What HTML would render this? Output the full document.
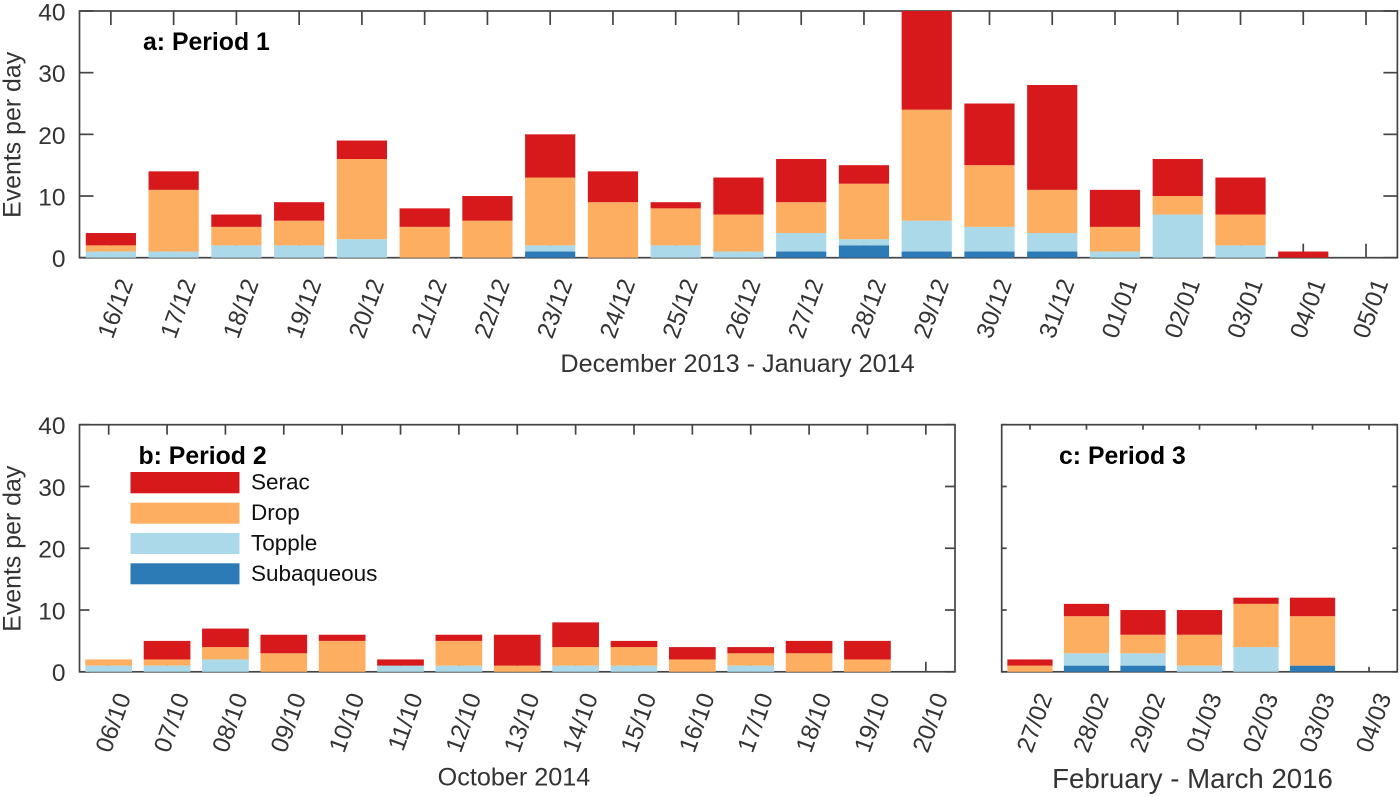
<!DOCTYPE html>
<html lang="en">
<head>
<meta charset="utf-8">
<title>Events per day by period</title>
<style>
html,body{margin:0;padding:0;background:#fff;}
svg{display:block;font-family:"Liberation Sans",Arial,sans-serif;}
</style>
</head>
<body>
<svg id="chart" xmlns="http://www.w3.org/2000/svg" width="1400" height="797" viewBox="0 0 1400 797">
  <g id="panels"></g>
  <g id="legend">
    <rect x="130.5" y="472" width="109" height="21.3" fill="#d7191c"/>
    <text x="251" y="489.5" font-size="22.5" fill="#111">Serac</text>
    <rect x="130.5" y="502.7" width="109" height="21" fill="#fdae61"/>
    <text x="251" y="520" font-size="22.5" fill="#111">Drop</text>
    <rect x="130.5" y="533" width="109" height="21" fill="#abd9e9"/>
    <text x="251" y="550.5" font-size="22.5" fill="#111">Topple</text>
    <rect x="130.5" y="563.3" width="109" height="21" fill="#2c7bb6"/>
    <text x="251" y="581" font-size="22.5" fill="#111">Subaqueous</text>
  </g>
</svg>
<script>
// Panel a: December 2013 - January 2014
const datesA = ["16/12","17/12","18/12","19/12","20/12","21/12","22/12","23/12","24/12","25/12","26/12","27/12","28/12","29/12","30/12","31/12","01/01","02/01","03/01","04/01","05/01"];
const subaqueousA = [0,0,0,0,0,0,0,1,0,0,0,1,2,1,1,1,0,0,0,0,0];
const toppleA     = [1,1,2,2,3,0,0,1,0,2,1,3,1,5,4,3,1,7,2,0,0];
const dropA       = [1,10,3,4,13,5,6,11,9,6,6,5,9,18,10,7,4,3,5,0,0];
const seracA      = [2,3,2,3,3,3,4,7,5,1,6,7,3,16,10,17,6,6,6,1,0];

// Panel b: October 2014
const datesB = ["06/10","07/10","08/10","09/10","10/10","11/10","12/10","13/10","14/10","15/10","16/10","17/10","18/10","19/10","20/10"];
const subaqueousB = [0,0,0,0,0,0,0,0,0,0,0,0,0,0,0];
const toppleB     = [1,1,2,0,0,1,1,0,1,1,0,1,0,0,0];
const dropB       = [1,1,2,3,5,0,4,1,3,3,2,2,3,2,0];
const seracB      = [0,3,3,3,1,1,1,5,4,1,2,1,2,3,0];

// Panel c: February - March 2016
const datesC = ["27/02","28/02","29/02","01/03","02/03","03/03","04/03"];
const subaqueousC = [0,1,1,0,0,1,0];
const toppleC     = [0,2,2,1,4,0,0];
const dropC       = [1,6,3,5,7,8,0];
const seracC      = [1,2,4,4,1,3,0];

// Shared y axis
const yTickValues = [0,10,20,30,40];
const yMax = 40;

const seriesNames = ["subaqueous","topple","drop","serac"];
const seriesColors = ["#2c7bb6","#abd9e9","#fdae61","#d7191c"];

const SVGNS = "http://www.w3.org/2000/svg";
const AXIS_COLOR = "#444";
const TEXT_COLOR = "#333";
const BAR_FRACTION = 0.8;

function svgEl(tag, attrs, parent, text) {
  const el = document.createElementNS(SVGNS, tag);
  for (const k in attrs) el.setAttribute(k, attrs[k]);
  if (text !== undefined) el.textContent = text;
  parent.appendChild(el);
  return el;
}

function drawPanel(root, p) {
  const xScale = i => p.left + (i + 0.5) * (p.right - p.left) / p.dates.length;
  const yScale = v => p.bottom - (v / yMax) * (p.bottom - p.top);
  const step = (p.right - p.left) / p.dates.length;

  const g = svgEl("g", {}, root);
  
  

  const frame = svgEl("rect", {x: p.left, y: p.top, width: p.right - p.left, height: p.bottom - p.top, fill: "none", stroke: AXIS_COLOR, "stroke-width": 1.7}, g);
  
  

  // x ticks (top and bottom) and rotated date labels
  p.dates.forEach((d, i) => {
    const x = xScale(i);
    const tickTop = svgEl("line", {x1: x, x2: x, y1: p.top, y2: p.top + p.tick, stroke: AXIS_COLOR, "stroke-width": 1.7}, g);
    
    
    const tickBottom = svgEl("line", {x1: x, x2: x, y1: p.bottom, y2: p.bottom - p.tick, stroke: AXIS_COLOR, "stroke-width": 1.7}, g);
    
    
    const ax = x + 22.6, ay = p.bottom + 25;
    const label = svgEl("text", {x: ax, y: ay, "text-anchor": "end", "font-size": 24.3, fill: TEXT_COLOR, transform: "rotate(-70 " + ax + " " + ay + ")"}, g, d);
    
    
  });

  // y ticks (left and right) and labels
  yTickValues.forEach(v => {
    const y = yScale(v);
    const tickLeft = svgEl("line", {x1: p.left, x2: p.left + p.tick, y1: y, y2: y, stroke: AXIS_COLOR, "stroke-width": 1.7}, g);
    
    
    const tickRight = svgEl("line", {x1: p.right, x2: p.right - p.tick, y1: y, y2: y, stroke: AXIS_COLOR, "stroke-width": 1.7}, g);
    
    
    if (p.showY) {
      const label = svgEl("text", {x: 65.5, y: y + 9.4, "text-anchor": "end", "font-size": 24.5, fill: TEXT_COLOR}, g, String(v));
      
      
    }
  });

  // stacked bars
  const barWidth = step * BAR_FRACTION;
  p.dates.forEach((d, i) => {
    let cum = 0;
    p.series.forEach((vals, s) => {
      const v = vals[i];
      if (v > 0) {
        const yTop = yScale(cum + v), yBase = yScale(cum);
        const bar = svgEl("rect", {x: xScale(i) - barWidth / 2, y: yTop, width: barWidth, height: yBase - yTop, fill: seriesColors[s]}, g);
        
        
      }
      cum += v;
    });
  });

  // y-axis title
  if (p.showY) {
    const cy = (p.top + p.bottom) / 2 + 0.5;
    const yTitle = svgEl("text", {x: 20.7, y: cy, "text-anchor": "middle", "font-size": 24.9, fill: TEXT_COLOR, transform: "rotate(-90 20.7 " + cy + ")"}, g, "Events per day");
    
    
  }

  // x-axis title
  const xTitle = svgEl("text", {x: p.xTitleX, y: p.xTitleY, "text-anchor": "middle", "font-size": p.xTitleSize, fill: TEXT_COLOR}, g, p.xTitle);
  
  

  // panel heading
  const heading = svgEl("text", {x: p.headingX, y: p.headingY, "font-size": 24.8, "font-weight": "bold", fill: "#000"}, g, p.heading);
  
  
}

const panelsRoot = document.getElementById("panels");

drawPanel(panelsRoot, {
  id: "a", left: 79.5, right: 1397.4, top: 11, bottom: 257.7, tick: 14, showY: true,
  dates: datesA, series: [subaqueousA, toppleA, dropA, seracA],
  heading: "a: Period 1", headingX: 143, headingY: 50,
  xTitle: "December 2013 - January 2014", xTitleX: 737.5, xTitleY: 372, xTitleSize: 25.2
});
drawPanel(panelsRoot, {
  id: "b", left: 79.5, right: 955, top: 424.7, bottom: 671.8, tick: 10, showY: true,
  dates: datesB, series: [subaqueousB, toppleB, dropB, seracB],
  heading: "b: Period 2", headingX: 138.5, headingY: 464,
  xTitle: "October 2014", xTitleX: 514, xTitleY: 785.7, xTitleSize: 25.2
});
drawPanel(panelsRoot, {
  id: "c", left: 1001.7, right: 1397.3, top: 424.7, bottom: 671.8, tick: 5, showY: false,
  dates: datesC, series: [subaqueousC, toppleC, dropC, seracC],
  heading: "c: Period 3", headingX: 1059, headingY: 464,
  xTitle: "February - March 2016", xTitleX: 1192.5, xTitleY: 788, xTitleSize: 27.6
});
</script>
</body>
</html>
